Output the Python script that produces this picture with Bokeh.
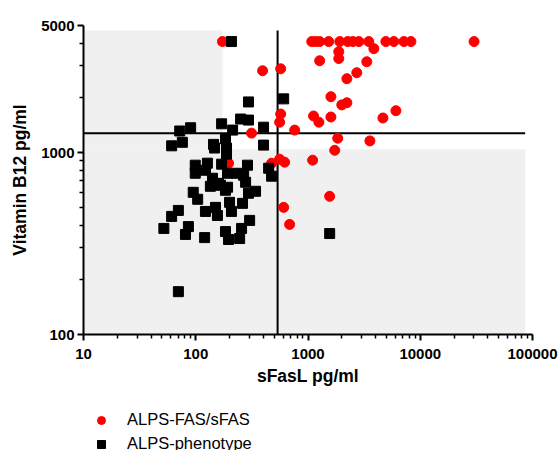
from bokeh.plotting import figure
from bokeh.layouts import column
from bokeh.models import (Range1d, FixedTicker, NumeralTickFormatter, Legend, LegendItem)
from bokeh.embed import file_html
from bokeh.resources import INLINE

# ---------------- data ----------------
red_x = [173, 1080, 1170, 1270, 1530, 1920, 2260, 2510, 2840, 3480, 4940, 5820, 7150, 8260, 30150,
         3860, 1880, 1880, 1270, 3340, 394, 571, 2720, 2220, 1600, 2220, 2000, 6070, 1120, 1600,
         4650, 1250, 571, 559, 761, 314, 1840, 3560, 1730, 1100, 559, 619, 474, 196, 1560, 607, 686]
red_y = [4080, 4080, 4080, 4080, 4080, 4080, 4080, 4080, 4080, 4080, 4080, 4080, 4080, 4080, 4080,
         3730, 3590, 3290, 3200, 3160, 2820, 2890, 2750, 2550, 2030, 1880, 1830, 1700, 1590, 1570,
         1550, 1470, 1630, 1470, 1330, 1280, 1200, 1160, 1030, 909, 920, 886, 875, 875, 575, 500, 403]

black_x = [208, 607, 295, 251, 295, 170, 402, 213, 90, 72, 76, 61, 144, 147, 184, 188, 188, 402, 170, 289,
           99, 99, 127, 122, 446, 474, 192, 231, 267, 141, 135, 166, 192, 184, 278, 341, 295, 95, 104, 159,
           200, 261, 208, 150, 156, 122, 70, 61, 302, 256, 246, 184, 196, 120, 86, 81, 52, 70, 1560]
black_y = [4080, 1975, 1900, 1530, 1510, 1440, 1380, 1330, 1370, 1315, 1140, 1090, 1110, 1060, 1190, 1060, 981, 1100, 864, 853,
           853, 770, 875, 800, 821, 742, 770, 770, 751, 723, 653, 661, 645, 621, 687, 613, 598, 605, 554, 678,
           533, 526, 475, 500, 451, 475, 481, 446, 424, 383, 337, 368, 333, 341, 392, 355, 383, 172, 359]

series_labels = ["ALPS-FAS/sFAS", "ALPS-phenotype"]
series_colors = ["#ff0000", "black"]
series_markers = ["circle", "square"]

x_major = [10, 100, 1000, 10000, 100000]
x_minor = [m * d for d in [10, 100, 1000, 10000] for m in range(2, 10)]
y_major = [100, 1000, 5000]
y_minor = [200, 300, 400, 500, 600, 700, 800, 900, 2000, 3000, 4000]

# reference areas and cut-offs
shade_x_min, shade_x_max = 10, 86000
shade_y_low, shade_y_high = 1045, 4690
shade_upper_x_max = 173
cut_b12 = 1277
cut_sfasl = 536

FONT = "Liberation Sans"

p = figure(width=559, height=400, x_axis_type="log", y_axis_type="log",
           x_range=Range1d(10, 100000), y_range=Range1d(100, 5000),
           output_backend="svg", toolbar_location=None,
           min_border_left=83, min_border_right=27, min_border_top=25, min_border_bottom=66)
p.outline_line_color = None
p.xgrid.visible = False
p.ygrid.visible = False

# shading
p.quad(left=[shade_x_min], right=[shade_x_max], bottom=[100], top=[shade_y_low],
       fill_color="#f0f0f0", line_color=None)
p.quad(left=[shade_x_min], right=[shade_upper_x_max], bottom=[shade_y_low], top=[shade_y_high],
       fill_color="#f0f0f0", line_color=None)

# cut-off lines
p.line(x=[shade_x_min, shade_x_max], y=[cut_b12, cut_b12], line_color="black", line_width=2)
p.line(x=[cut_sfasl, cut_sfasl], y=[100, shade_y_high], line_color="black", line_width=2)

p.scatter(red_x, red_y, marker=series_markers[0], size=10,
          fill_color=series_colors[0], line_color=series_colors[0])
p.scatter(black_x, black_y, marker=series_markers[1], size=10,
          fill_color=series_colors[1], line_color=series_colors[1])

for ax, maj, mino in [(p.xaxis[0], x_major, x_minor), (p.yaxis[0], y_major, y_minor)]:
    ax.ticker = FixedTicker(ticks=maj, minor_ticks=mino)
    ax.formatter = NumeralTickFormatter(format="0")
    ax.axis_line_width = 2
    ax.major_tick_line_width = 2
    ax.minor_tick_line_width = 1.5
    ax.major_tick_in = 0
    ax.major_tick_out = 6
    ax.minor_tick_in = 0
    ax.minor_tick_out = 4
    ax.major_label_text_font = FONT
    ax.major_label_text_font_size = "15px"
    ax.major_label_text_font_style = "bold"
    ax.major_label_text_color = "black"
    ax.axis_label_text_font = FONT
    ax.axis_label_text_font_size = "17.5px"
    ax.axis_label_text_font_style = "bold"
    ax.axis_label_text_color = "black"

p.xaxis.axis_label = "sFasL pg/ml"
p.yaxis.axis_label = "Vitamin B12 pg/ml"
p.xaxis.major_label_standoff = 8
p.xaxis.axis_label_standoff = 4
p.yaxis.major_label_standoff = 3
p.yaxis.axis_label_standoff = 8

# ---------------- legend strip below the chart ----------------
p2 = figure(width=559, height=50, x_range=Range1d(0, 1), y_range=Range1d(0, 1),
            output_backend="svg", toolbar_location=None,
            x_axis_location=None, y_axis_location=None,
            min_border_left=0, min_border_right=0, min_border_top=0, min_border_bottom=0)
p2.outline_line_color = None
p2.xgrid.visible = False
p2.ygrid.visible = False

items = []
for lab, col, mk in zip(series_labels, series_colors, series_markers):
    # key renderer: a single point kept outside the visible range, only its legend key shows
    r = p2.scatter(x=[-5], y=[-5], marker=mk, size=10, fill_color=col, line_color=col)
    items.append(LegendItem(label=lab, renderers=[r]))

legend = Legend(items=items, location=(8, -3.5), orientation="vertical",
                border_line_color=None, background_fill_alpha=0,
                padding=0, margin=0, spacing=4,
                glyph_width=20, glyph_height=20, label_height=20, label_standoff=16,
                label_text_font=FONT, label_text_font_size="16.5px", label_text_color="black")
p2.add_layout(legend)

open("out.html", "w").write(file_html(column(p, p2, spacing=0), INLINE))
